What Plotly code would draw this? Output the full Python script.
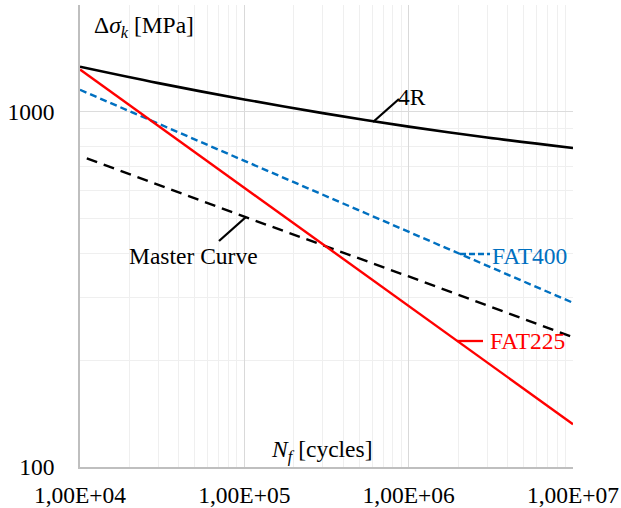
import plotly.graph_objects as go

# ---- data ----
n_4r = [1e4, 3e4, 1e5, 3e5, 1e6, 3e6, 1e7]
s_4r = [1340, 1205, 1084, 992, 909, 847, 791]

n_fat225 = [1e4, 1e5, 1e6, 1e7]
s_fat225 = [1316, 611, 284, 132]

n_fat400 = [1e4, 1e5, 1e6, 1e7]
s_fat400 = [1154, 728, 459, 290]

n_master = [1.1e4, 1e5, 1e6, 1e7]
s_master = [740, 507, 344, 232]

x_tickvals = [1e4, 1e5, 1e6, 1e7]
x_ticktext = ["1,00E+04", "1,00E+05", "1,00E+06", "1,00E+07"]
y_tickvals = [100, 1000]
y_ticktext = ["100", "1000"]

FONT = "Liberation Serif, DejaVu Serif, serif"
FS = 23.5

# plot area in pixels
L, R, T, B = 80, 573, 5, 467
W, H = 621, 508


def px(x):
    return (x - L) / (R - L)


def py(y):
    return (B - y) / (B - T)


fig = go.Figure()
fig.add_trace(go.Scatter(x=n_4r, y=s_4r, mode="lines", line=dict(color="black", width=2.6, shape="spline"), showlegend=False))
fig.add_trace(go.Scatter(x=n_fat400, y=s_fat400, mode="lines", line=dict(color="#0070C0", width=2.4, dash="7px,4px"), showlegend=False))
fig.add_trace(go.Scatter(x=n_master, y=s_master, mode="lines", line=dict(color="black", width=2.4, dash="11px,7px"), showlegend=False))
fig.add_trace(go.Scatter(x=n_fat225, y=s_fat225, mode="lines", line=dict(color="#FF0000", width=2.4), showlegend=False))

x_minor = [m * 10 ** e for e in (4, 5, 6) for m in range(2, 10)]
y_minor = [m * 100 for m in range(2, 10)] + [2000]

fig.update_xaxes(
    type="log", range=[4, 7], tickvals=x_tickvals, ticktext=x_ticktext,
    showline=True, linecolor="#bfbfbf", linewidth=1.5,
    showgrid=True, gridcolor="#d9d9d9", gridwidth=1.2,
    minor=dict(tickmode="array", tickvals=x_minor, showgrid=True, gridcolor="#efefef", gridwidth=1.2),
    ticks="", ticklabelstandoff=6, zeroline=False,
    tickfont=dict(family=FONT, size=FS, color="black"),
)
fig.update_yaxes(
    type="log", range=[2, 3.30103], tickvals=y_tickvals, ticktext=y_ticktext,
    showline=True, linecolor="#bfbfbf", linewidth=1.5,
    showgrid=True, gridcolor="#dcdcdc", gridwidth=1.2,
    minor=dict(tickmode="array", tickvals=y_minor, showgrid=True, gridcolor="#efefef", gridwidth=1.2),
    ticks="", ticklabelstandoff=19, zeroline=False,
    tickfont=dict(family=FONT, size=FS, color="black"),
)

ann = []


def text(s, x, y, xanchor="center", color="black"):
    ann.append(dict(text=s, x=px(x), y=py(y), xref="paper", yref="paper", xanchor=xanchor, yanchor="middle",
                    showarrow=False, font=dict(family=FONT, size=FS, color=color)))


text("Δ<i>σ</i><sub><i>k</i></sub> [MPa]", 92, 27, "left")
text("<i>N</i><sub><i>f</i></sub> [cycles]", 269, 451, "left")
text("4R", 412, 97)
text("Master Curve", 193, 256)
text("FAT400", 490, 256, "left", "#0070C0")
text("FAT225", 488, 341, "left", "#FF0000")

shapes = []


def seg(x0, y0, x1, y1, color, dash="solid"):
    shapes.append(dict(type="line", xref="paper", yref="paper", x0=px(x0), y0=py(y0), x1=px(x1), y1=py(y1),
                       line=dict(color=color, width=2.3, dash=dash)))


seg(373, 122, 399, 99, "black")
seg(219, 241, 246, 217, "black")
seg(460, 254, 490, 254, "#0070C0", "6px,3px")
seg(457, 341, 483, 341, "#FF0000")

fig.update_layout(
    width=W, height=H,
    margin=dict(l=L, r=W - R, t=T, b=H - B, autoexpand=False),
    plot_bgcolor="white", paper_bgcolor="white",
    annotations=ann, shapes=shapes,
    font=dict(family=FONT, size=FS, color="black"),
)

fig.write_html("out.html")
